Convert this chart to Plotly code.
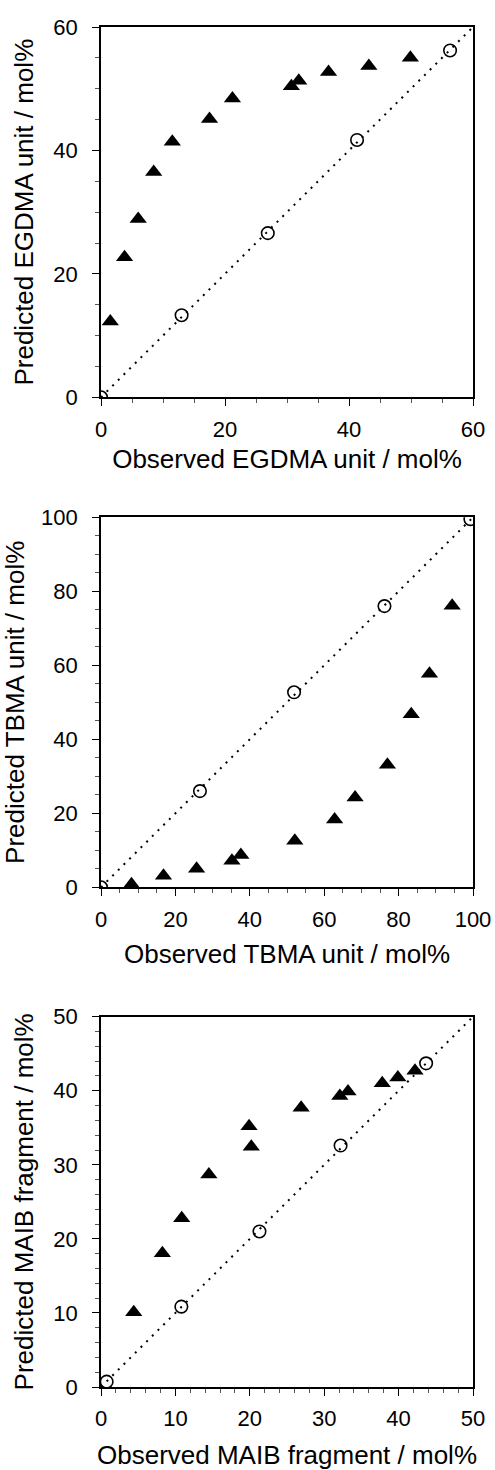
import plotly.graph_objects as go
from plotly.subplots import make_subplots

# EGDMA unit (mol%)
egdma_obs = [1.5, 3.8, 6.0, 8.5, 11.5, 17.5, 21.2, 30.7, 31.9, 36.7, 43.2, 49.9]
egdma_pred = [12.3, 22.7, 28.9, 36.5, 41.4, 45.1, 48.4, 50.4, 51.3, 52.7, 53.7, 55.0]
egdma_obs_ref = [0.0, 13.0, 26.9, 41.3, 56.3]
egdma_pred_ref = [0.0, 13.3, 26.6, 41.7, 56.2]

# TBMA unit (mol%)
tbma_obs = [8.2, 16.8, 25.7, 35.2, 37.6, 52.1, 62.8, 68.3, 77.0, 83.4, 88.3, 94.4]
tbma_pred = [0.8, 3.1, 5.0, 7.2, 8.7, 12.6, 18.3, 24.3, 33.1, 46.8, 57.7, 76.1]
tbma_obs_ref = [0.0, 26.6, 51.9, 76.2, 99.3]
tbma_pred_ref = [0.0, 26.0, 52.7, 76.0, 99.5]

# MAIB fragment (mol%)
maib_obs = [4.4, 8.25, 10.85, 14.5, 19.9, 20.2, 26.9, 32.1, 33.2, 37.8, 39.9, 42.2]
maib_pred = [10.1, 18.05, 22.8, 28.7, 35.2, 32.45, 37.7, 39.3, 39.9, 41.0, 41.8, 42.7]
maib_obs_ref = [0.76, 10.8, 21.3, 32.2, 43.7]
maib_pred_ref = [0.72, 10.85, 21.0, 32.6, 43.7]

panels = [
    ("EGDMA unit", 60, 20, 5, egdma_obs, egdma_pred, egdma_obs_ref, egdma_pred_ref),
    ("TBMA unit", 100, 20, 5, tbma_obs, tbma_pred, tbma_obs_ref, tbma_pred_ref),
    ("MAIB fragment", 50, 10, 2, maib_obs, maib_pred, maib_obs_ref, maib_pred_ref),
]
x_title_gap = [9, 14, 20]

FONT = "Liberation Sans, Arial, Helvetica, sans-serif"

fig = make_subplots(rows=3, cols=1)

for i, (name, top, major, minor, xo, yp, xr, yr) in enumerate(panels, start=1):
    # y = x parity line
    fig.add_trace(go.Scatter(x=[0, top], y=[0, top], mode="lines",
                             line=dict(color="black", width=2, dash="2px,6px"),
                             showlegend=False, hoverinfo="skip"), row=i, col=1)
    fig.add_trace(go.Scatter(x=xr, y=yr, mode="markers",
                             marker=dict(symbol="circle-open", size=12.5, color="black",
                                         line=dict(width=1.6, color="black")),
                             showlegend=False), row=i, col=1)
    fig.add_trace(go.Scatter(x=xo, y=yp, mode="markers",
                             marker=dict(symbol="triangle-up", size=15, color="black"),
                             showlegend=False), row=i, col=1)

    axis_common = dict(range=[0, top], dtick=major, tick0=0,
                       showgrid=False, zeroline=False,
                       showline=True, mirror=True, linecolor="black", linewidth=1.8,
                       ticks="outside", ticklen=7, tickwidth=1.2, tickcolor="black",
                       ticklabeloverflow="allow",
                       minor=dict(dtick=minor, ticks="outside", ticklen=4,
                                  tickcolor="#555", tickwidth=1, showgrid=False),
                       tickfont=dict(family=FONT, size=22, color="black"),
                       automargin=False)
    fig.update_xaxes(title=dict(text="Observed " + name + " / mol%",
                                font=dict(family=FONT, size=26, color="black"),
                                standoff=x_title_gap[i - 1]),
                     ticklabelstandoff=4, **axis_common, row=i, col=1)
    fig.update_yaxes(title=dict(text="Predicted " + name + " / mol%",
                                font=dict(family=FONT, size=26, color="black"),
                                standoff=12),
                     ticklabelstandoff=10, **axis_common, row=i, col=1)

# square panels, placed to match the reference
H = 1470.0
W = 495.0
xdom = [101 / W, 473 / W]
ydoms = [(27, 397.3), (517.3, 887.3), (1016.7, 1387.0)]
for i, (t, b) in enumerate(ydoms, start=1):
    fig.update_layout(**{
        ("xaxis" if i == 1 else "xaxis%d" % i): dict(domain=xdom),
        ("yaxis" if i == 1 else "yaxis%d" % i): dict(domain=[1 - b / H, 1 - t / H]),
    })

fig.update_layout(width=495, height=1470,
                  margin=dict(l=0, r=0, t=0, b=0),
                  paper_bgcolor="white", plot_bgcolor="white",
                  font=dict(family=FONT, color="black"))

# drop the default page margin so the 495x1470 figure fills the window exactly
fig.write_html("out.html", config={"displayModeBar": False},
               post_script="document.body.style.margin = '0';")
